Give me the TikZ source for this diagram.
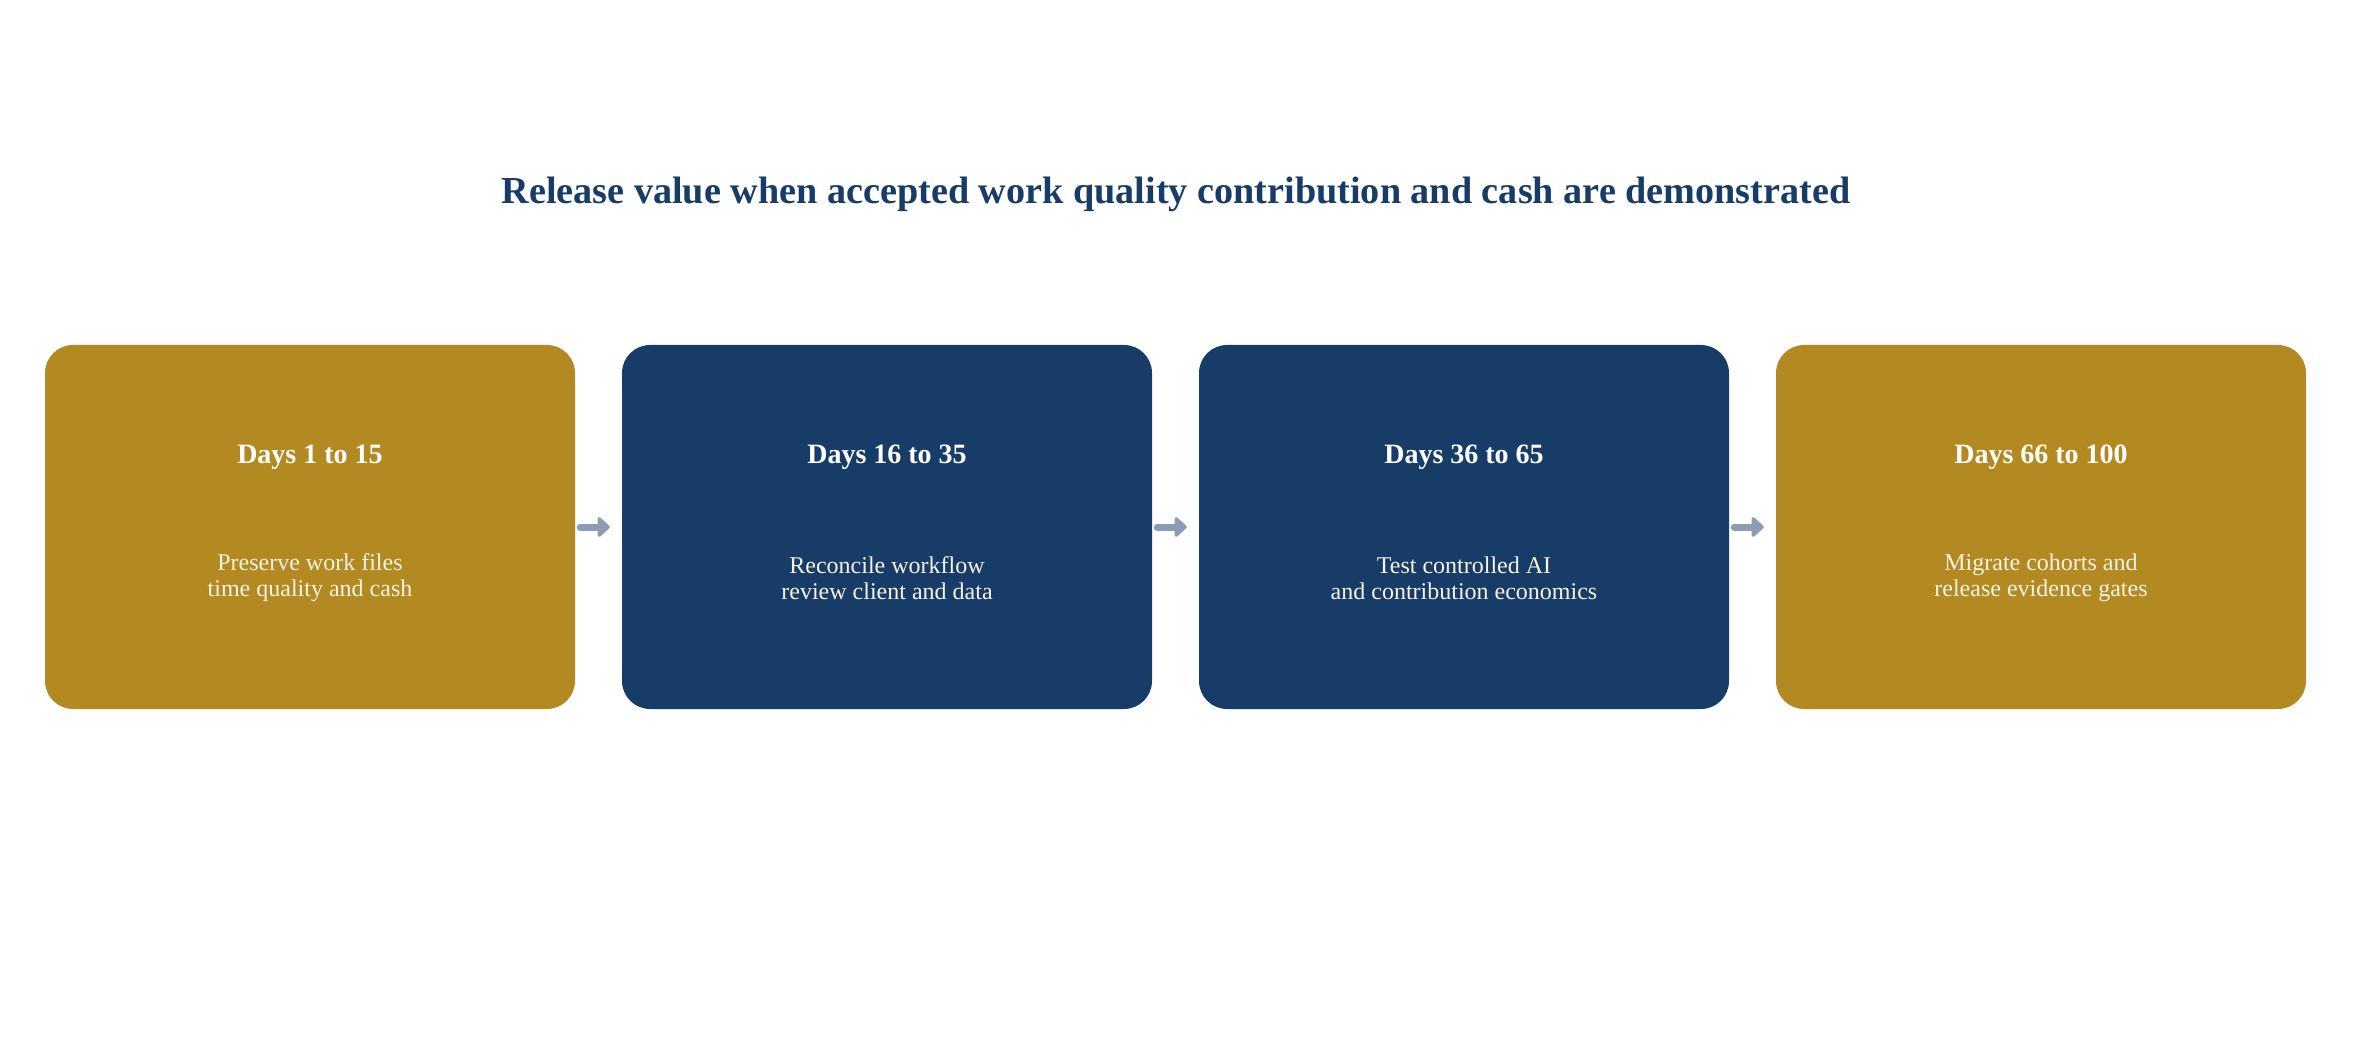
\documentclass[tikz,border=0pt]{standalone}
\usepackage{fontspec}
\setmainfont{Liberation Serif}
\usetikzlibrary{arrows.meta}
\definecolor{gold}{HTML}{B28A21}
\definecolor{navy}{HTML}{183C68}
\definecolor{arrowgrey}{HTML}{8A9DB5}
\definecolor{bodytext}{HTML}{F8F3E6}
\tikzset{
  phase/.style={rounded corners=28pt, minimum width=530pt, minimum height=364pt, inner sep=0pt},
  goldbox/.style={phase, fill=gold},
  navybox/.style={phase, fill=navy},
  daylabel/.style={text=white, font=\fontsize{28}{32}\selectfont\bfseries, anchor=base, inner sep=0pt},
  bodylabel/.style={text=bodytext, font=\fontsize{24}{26}\selectfont, align=center, anchor=center, inner sep=0pt},
  flow/.style={draw=arrowgrey, line width=7pt, line cap=round, -{Triangle[round, length=13pt, width=23pt]}},
}
\begin{document}
\begin{tikzpicture}[x=1pt, y=-1pt]
\useasboundingbox (0,0) rectangle (2354,1056);
\node[text=navy, font=\fontsize{38.2}{42}\selectfont\bfseries, anchor=base, inner sep=0pt] (title) at (1176,204) {Release value when accepted work quality contribution and cash are demonstrated};

\node[goldbox] (b1) at (310,527) {};
\node[navybox] (b2) at (887,527) {};
\node[navybox] (b3) at (1464,527) {};
\node[goldbox] (b4) at (2041,527) {};

\node[daylabel] (d1) at (310,464) {Days 1 to 15};
\node[daylabel] (d2) at (887,464) {Days 16 to 35};
\node[daylabel] (d3) at (1464,464) {Days 36 to 65};
\node[daylabel] (d4) at (2041,464) {Days 66 to 100};

\node[bodylabel] (t1) at (310,578) {Preserve work files\\time quality and cash};
\node[bodylabel] (t2) at (887,578) {Reconcile workflow\\review client and data};
\node[bodylabel] (t3) at (1464,578) {Test controlled AI\\and contribution economics};
\node[bodylabel] (t4) at (2041,578) {Migrate cohorts and\\release evidence gates};

\draw[flow, shorten <=5pt, shorten >=12pt] (b1.east) -- (b2.west);
\draw[flow, shorten <=5pt, shorten >=12pt] (b2.east) -- (b3.west);
\draw[flow, shorten <=5pt, shorten >=12pt] (b3.east) -- (b4.west);
\end{tikzpicture}
\end{document}
